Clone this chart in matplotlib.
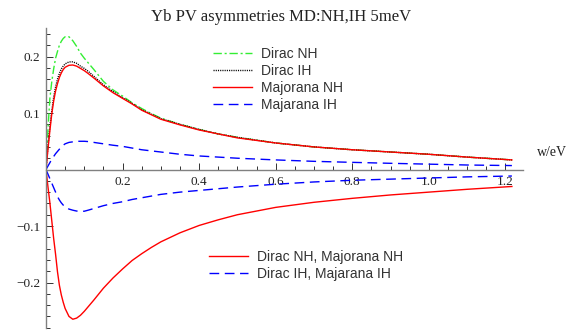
import matplotlib.pyplot as plt
from matplotlib.ticker import MultipleLocator, FixedLocator

# energy grid (eV) and asymmetry values
w = [0.0, 0.005, 0.01, 0.015, 0.02, 0.025, 0.03, 0.035, 0.04, 0.045, 0.05, 0.06,
     0.07, 0.08, 0.09, 0.10, 0.11, 0.125, 0.15, 0.175, 0.20, 0.225, 0.25, 0.275,
     0.30, 0.35, 0.40, 0.45, 0.50, 0.60, 0.70, 0.80, 0.90, 1.00, 1.10, 1.217]

dirac_nh = [0.0, 0.070, 0.125, 0.155, 0.178, 0.197, 0.209, 0.220, 0.227, 0.232,
            0.235, 0.235, 0.228, 0.218, 0.206, 0.197, 0.189, 0.177, 0.156, 0.141,
            0.130, 0.118, 0.108, 0.099, 0.091, 0.080, 0.071, 0.063, 0.057, 0.047,
            0.040, 0.035, 0.031, 0.027, 0.022, 0.017]
dirac_ih = [0.0, 0.040, 0.075, 0.103, 0.128, 0.146, 0.160, 0.170, 0.178, 0.183,
            0.187, 0.1905, 0.1905, 0.188, 0.183, 0.179, 0.174, 0.165, 0.150, 0.138,
            0.127, 0.117, 0.106, 0.098, 0.090, 0.080, 0.071, 0.063, 0.057, 0.047,
            0.040, 0.035, 0.031, 0.027, 0.022, 0.017]
majorana_nh = [0.0, 0.035, 0.068, 0.098, 0.121, 0.139, 0.152, 0.163, 0.171, 0.177,
               0.181, 0.1845, 0.185, 0.183, 0.179, 0.175, 0.170, 0.162, 0.148, 0.136,
               0.126, 0.116, 0.105, 0.097, 0.089, 0.079, 0.070, 0.063, 0.056, 0.047,
               0.040, 0.035, 0.031, 0.027, 0.022, 0.017]
majarana_ih = [0.0, 0.006, 0.012, 0.018, 0.023, 0.028, 0.032, 0.036, 0.040, 0.043,
               0.0455, 0.048, 0.049, 0.050, 0.050, 0.050, 0.0495, 0.048, 0.0455, 0.043,
               0.041, 0.038, 0.035, 0.033, 0.031, 0.027, 0.024, 0.022, 0.020, 0.017,
               0.0145, 0.0127, 0.011, 0.0095, 0.008, 0.007]

neg_nh = [0.0, -0.030, -0.058, -0.090, -0.122, -0.150, -0.181, -0.205, -0.222, -0.235,
          -0.246, -0.260, -0.265, -0.263, -0.258, -0.251, -0.243, -0.231, -0.210,
          -0.192, -0.176, -0.161, -0.149, -0.138, -0.128, -0.112, -0.099, -0.089,
          -0.080, -0.067, -0.058, -0.051, -0.045, -0.040, -0.035, -0.030]
neg_ih = [0.0, -0.008, -0.016, -0.024, -0.032, -0.040, -0.048, -0.054, -0.059, -0.063,
          -0.066, -0.070, -0.072, -0.0735, -0.074, -0.0738, -0.072, -0.069, -0.064,
          -0.060, -0.057, -0.053, -0.050, -0.047, -0.044, -0.040, -0.037, -0.034,
          -0.031, -0.026, -0.022, -0.019, -0.017, -0.015, -0.013, -0.0115]

axis_grey = '#808080'

fig = plt.figure(figsize=(5.71, 3.33), dpi=100)
ax = fig.add_axes([46 / 571, 5 / 333, 477 / 571, 300 / 333])

g1, = ax.plot(w, dirac_nh, color='#33ee33', lw=1.0, dashes=[6, 2, 1.5, 2])
g2, = ax.plot(w, dirac_ih, color='black', lw=1.0, ls=(0, (0.8, 0.8)))
g3, = ax.plot(w, majorana_nh, color='red', lw=1.0)
g4, = ax.plot(w, majarana_ih, color='blue', lw=1.0, dashes=[7, 4])
n1, = ax.plot(w, neg_nh, color='red', lw=1.0)
n2, = ax.plot(w, neg_ih, color='blue', lw=1.0, dashes=[7, 4])

ax.set_xlim(0, 1.246)
ax.set_ylim(-0.2805, 0.2505)

for side in ('top', 'right'):
    ax.spines[side].set_visible(False)
for side in ('left', 'bottom'):
    ax.spines[side].set_position(('data', 0))
    ax.spines[side].set_color(axis_grey)
    ax.spines[side].set_linewidth(1.0)

ax.xaxis.set_major_locator(FixedLocator([0.2, 0.4, 0.6, 0.8, 1.0, 1.2]))
ax.xaxis.set_minor_locator(MultipleLocator(0.05))
ax.yaxis.set_major_locator(FixedLocator([-0.2, -0.1, 0.1, 0.2]))
ax.yaxis.set_minor_locator(MultipleLocator(0.02))

ax.tick_params(which='both', direction='in', color='#333333', width=0.7,
               labelsize=9.5, labelcolor='#222222')
ax.tick_params(which='major', length=5)
ax.tick_params(which='minor', length=3)
ax.tick_params(axis='x', pad=5)
ax.tick_params(axis='y', pad=4)
for lab in ax.get_xticklabels() + ax.get_yticklabels():
    lab.set_family('Liberation Serif')
ax.xaxis.set_major_formatter(plt.FuncFormatter(lambda v, p: f'{v:.1f}'))
ax.yaxis.set_major_formatter(plt.FuncFormatter(lambda v, p: f'{v:.1f}'.replace('-', '\u2212')))

fig.text(0.493, 0.950, 'Yb PV asymmetries MD:NH,IH 5meV', ha='center', va='center',
         family='Liberation Serif', fontsize=12, color='#222222')
fig.text(537 / 571, 1 - 153 / 333, 'w/eV', ha='left', va='center',
         family='Liberation Serif', fontsize=10, color='#222222')

legend_font = {'family': 'Liberation Sans', 'size': 10}

leg1 = ax.legend([g1, g2, g3, g4], ['Dirac NH', 'Dirac IH', 'Majorana NH', 'Majarana IH'],
                 loc='upper left', bbox_to_anchor=(213 / 571, 1 - 47 / 333),
                 bbox_transform=fig.transFigure, frameon=False, prop=legend_font,
                 handlelength=2.8, handletextpad=0.65, labelspacing=0.22,
                 borderaxespad=0, borderpad=0)
for t in leg1.get_texts():
    t.set_color('#333333')
ax.add_artist(leg1)

leg2 = ax.legend([n1, n2], ['Dirac NH, Majorana NH', 'Dirac IH, Majarana IH'],
                 loc='upper left', bbox_to_anchor=(209 / 571, 1 - 250 / 333),
                 bbox_transform=fig.transFigure, frameon=False, prop=legend_font,
                 handlelength=2.8, handletextpad=0.65, labelspacing=0.22,
                 borderaxespad=0, borderpad=0)
for t in leg2.get_texts():
    t.set_color('#333333')

fig.savefig('out.png', dpi=100)
